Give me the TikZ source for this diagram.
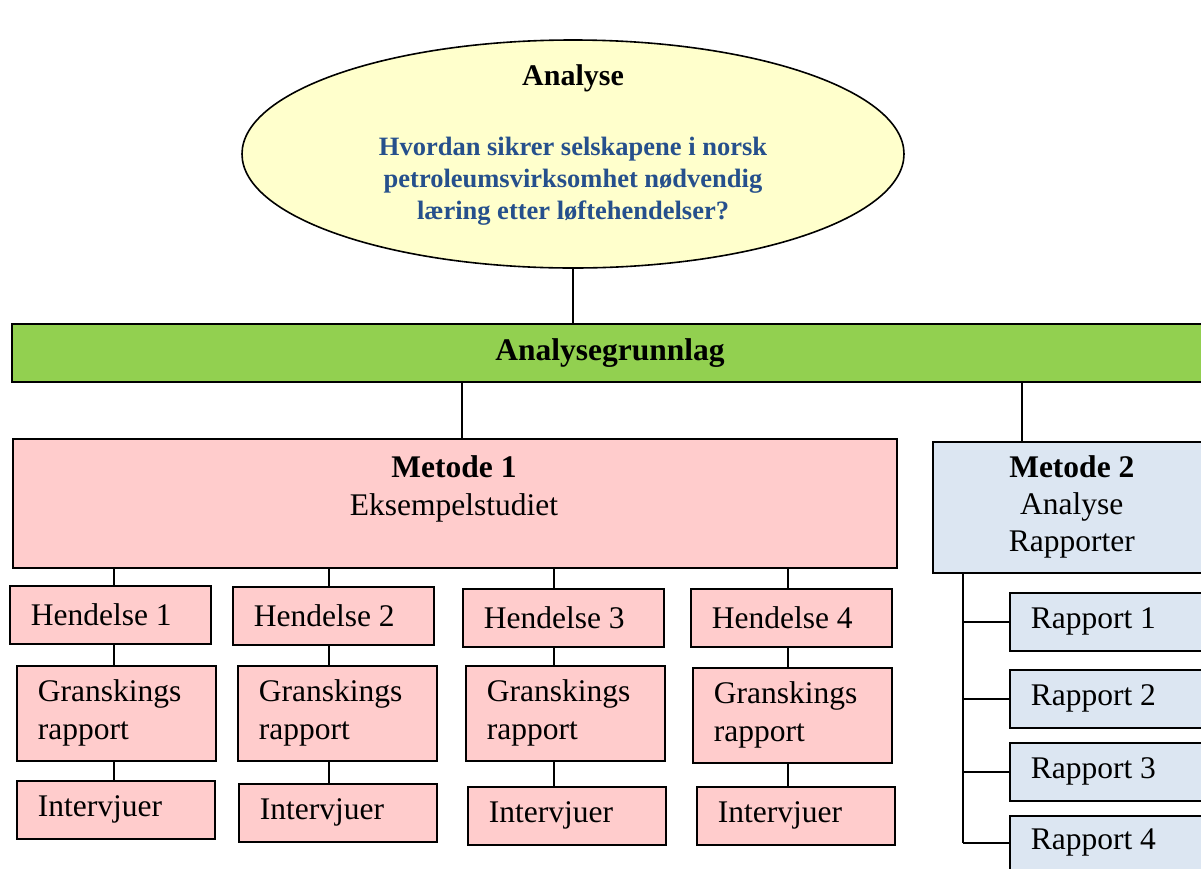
\documentclass[tikz,border=0pt]{standalone}
\usepackage{fontspec}
\setmainfont{Liberation Serif}
\usetikzlibrary{shapes.geometric}
\definecolor{ellfill}{RGB}{255,255,204}
\definecolor{barfill}{RGB}{146,208,80}
\definecolor{pinkfill}{RGB}{255,204,204}
\definecolor{bluefill}{RGB}{220,230,242}
\definecolor{qblue}{RGB}{38,80,140}
\begin{document}
\begin{tikzpicture}[x=1pt,y=-1pt,
  base/.style={font=\fontsize{31.5}{38}\selectfont},
  box/.style={draw=black, line width=1.6pt, rectangle, inner sep=0pt, base},
  pinkbox/.style={box, fill=pinkfill},
  bluebox/.style={box, fill=bluefill},
  lefttext/.style={align=flush left, inner xsep=21pt, anchor=north west},
  hbox/.style={pinkbox, lefttext, text width=159pt, minimum height=58pt},
  gbox/.style={pinkbox, lefttext, text width=157pt, minimum height=95pt},
  ibox/.style={pinkbox, lefttext, text width=156pt, minimum height=58pt},
  rbox/.style={bluebox, lefttext, text width=159pt, minimum height=58pt},
  conn/.style={draw=black, line width=1.4pt}]
\useasboundingbox (0,0) rectangle (1201,868);
\clip (0,0) rectangle (1201,868);

% top question
\node[ellipse, draw=black, line width=1.6pt, fill=ellfill, inner sep=0pt,
      minimum width=662pt, minimum height=228pt] (ell) at (573,154) {};
\node[font=\fontsize{30}{36}\selectfont\bfseries] (elltitle) at (573,78) {Analyse};
\node[font=\fontsize{26.5}{32}\selectfont\bfseries, text=qblue, align=center]
  (question) at (573,181)
  {Hvordan sikrer selskapene i norsk\\petroleumsvirksomhet nødvendig\\læring etter løftehendelser?};

% basis bar
\node[box, fill=barfill, anchor=north west, minimum width=1198pt, minimum height=58pt,
      font=\fontsize{31.5}{38}\selectfont\bfseries] (bar) at (11,323) {};
\node[font=\fontsize{31.5}{38}\selectfont\bfseries] (bartext) at (610,353) {Analysegrunnlag};

% method 1
\node[pinkbox, anchor=north west, minimum width=884pt, minimum height=129pt] (m1) at (12,438) {};
\node[base, align=center] (m1text) at (454,488.5) {\textbf{Metode 1}\\Eksempelstudiet};

% method 2
\node[bluebox, anchor=north west, minimum width=278pt, minimum height=131pt,
      align=center, font=\fontsize{31.5}{37}\selectfont] (m2) at (932,441)
  {\textbf{Metode 2}\\Analyse\\Rapporter};

% events
\node[hbox] (h1) at (9,585)   {Hendelse 1};
\node[hbox] (h2) at (232,586) {Hendelse 2};
\node[hbox] (h3) at (462,588) {Hendelse 3};
\node[hbox] (h4) at (690,588) {Hendelse 4};

\node[gbox] (g1) at (16,665)  {Granskings\\rapport};
\node[gbox] (g2) at (237,665) {Granskings\\rapport};
\node[gbox] (g3) at (465,665) {Granskings\\rapport};
\node[gbox] (g4) at (692,667) {Granskings\\rapport};

\node[ibox] (i1) at (16,780)  {Intervjuer};
\node[ibox] (i2) at (238,783) {Intervjuer};
\node[ibox] (i3) at (467,786) {Intervjuer};
\node[ibox] (i4) at (696,786) {Intervjuer};

% reports
\node[rbox] (r1) at (1009,592) {Rapport 1};
\node[rbox] (r2) at (1009,669) {Rapport 2};
\node[rbox] (r3) at (1009,742) {Rapport 3};
\node[rbox, minimum height=54pt] (r4) at (1009,815) {Rapport 4};

% connectors
\draw[conn] (ell.south) -- (ell.south |- bar.north);
\coordinate (t1) at (462,0);
\coordinate (t2) at (1022,0);
\draw[conn] (t1 |- bar.south) -- (t1 |- m1.north);
\draw[conn] (t2 |- bar.south) -- (t2 |- m2.north);

\coordinate (c1) at (114,0);
\coordinate (c2) at (329,0);
\coordinate (c3) at (554,0);
\coordinate (c4) at (788,0);
\foreach \k in {1,2,3,4}{
  \draw[conn] (c\k |- m1.south) -- (c\k |- h\k.north);
  \draw[conn] (c\k |- h\k.south) -- (c\k |- g\k.north);
  \draw[conn] (c\k |- g\k.south) -- (c\k |- i\k.north);
}

\coordinate (trunk) at (963,0);
\draw[conn] (trunk |- m2.south) -- (trunk |- r4.west);
\foreach \k in {1,2,3,4}{
  \draw[conn] (trunk |- r\k.west) -- (r\k.west);
}
\end{tikzpicture}
\end{document}
